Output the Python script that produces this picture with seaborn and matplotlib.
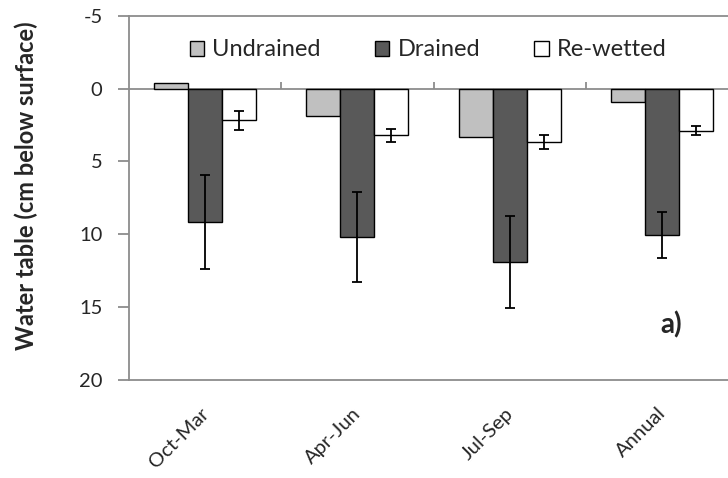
import pandas as pd
import matplotlib
matplotlib.use("Agg")
import matplotlib.pyplot as plt
import matplotlib.transforms as mtransforms
import seaborn as sns

# valores (cm abaixo da superfície)
periodos = ["Oct-Mar", "Apr-Jun", "Jul-Sep", "Annual"]
tratamentos = ["Undrained", "Drained", "Re-wetted"]
undrained = [-0.4, 1.85, 3.33, 0.89]
drained = [9.15, 10.18, 11.9, 10.05]
rewetted = [2.19, 3.22, 3.67, 2.88]
drained_err = [3.2, 3.07, 3.13, 1.57]
rewetted_err = [0.65, 0.46, 0.5, 0.3]

df = pd.DataFrame({
    "periodo": periodos * 3,
    "tratamento": [t for t in tratamentos for _ in periodos],
    "wt": undrained + drained + rewetted,
})

sns.set_style("white")
plt.rcParams["font.family"] = ["Lato", "DejaVu Sans"]
plt.rcParams["axes.unicode_minus"] = False

fig = plt.figure(figsize=(7.28, 4.78), dpi=100)
ax = fig.add_axes([129 / 728, 1 - 380 / 478, 609 / 728, (380 - 15.7) / 478])

cores = {"Undrained": "#c0c0c0", "Drained": "#595959", "Re-wetted": "#ffffff"}
sns.barplot(data=df, x="periodo", y="wt", hue="tratamento", order=periodos,
            hue_order=tratamentos, palette=cores, width=0.67, edgecolor="black",
            linewidth=1.0, errorbar=None, ax=ax, legend=True)

# barras de erro só para drenado e re-umedecido
erros = {"Drained": drained_err, "Re-wetted": rewetted_err}
for cont, trat in zip(ax.containers, tratamentos):
    if trat not in erros:
        continue
    xs = [b.get_x() + b.get_width() / 2 for b in cont]
    ys = [b.get_y() + b.get_height() for b in cont]
    ax.errorbar(xs, ys, yerr=erros[trat], fmt="none", ecolor="black",
                elinewidth=1.3, capsize=3.8, capthick=1.3)

ax.set_ylim(20, -5)
ax.set_xlim(-0.5, 3.5)
ax.set_yticks([-5, 0, 5, 10, 15, 20])
ax.set_ylabel("Water table (cm below surface)", fontsize=17, fontweight="bold")
ax.yaxis.set_label_coords(-0.149, 0.534)
ax.set_xlabel("")

cinza = "#8c8c8c"
for lado in ["left", "top", "bottom"]:
    ax.spines[lado].set_color(cinza)
    ax.spines[lado].set_linewidth(1.3)
ax.spines["right"].set_visible(False)
ax.axhline(0, color=cinza, lw=1.3, zorder=0.5)
ax.vlines([0.5, 1.5, 2.5], 0, -0.45, color=cinza, lw=1.3)

ax.tick_params(axis="y", direction="out", length=8, color=cinza, width=1.3,
               labelsize=14.5, left=True, pad=11)
ax.tick_params(axis="x", length=0, labelsize=14.5, pad=12)
desloc = mtransforms.ScaledTranslation(-5 / 100, -8 / 100, fig.dpi_scale_trans)
for lab in ax.get_xticklabels():
    lab.set_rotation(45)
    lab.set_ha("right")
    lab.set_rotation_mode("anchor")
    lab.set_transform(lab.get_transform() + desloc)

leg = ax.legend(loc="center left", bbox_to_anchor=(0.1, 0.906), ncol=3, frameon=False,
                fontsize=17, handlelength=0.6, handleheight=0.6, handletextpad=0.35,
                columnspacing=2.3, borderaxespad=0, borderpad=0)
for h in leg.legend_handles:
    h.set_linewidth(1.0)

ax.text(0.89, 0.151, "a)", transform=ax.transAxes, fontsize=20, fontweight="bold",
        ha="center", va="center")

fig.savefig("out.png", dpi=100)
